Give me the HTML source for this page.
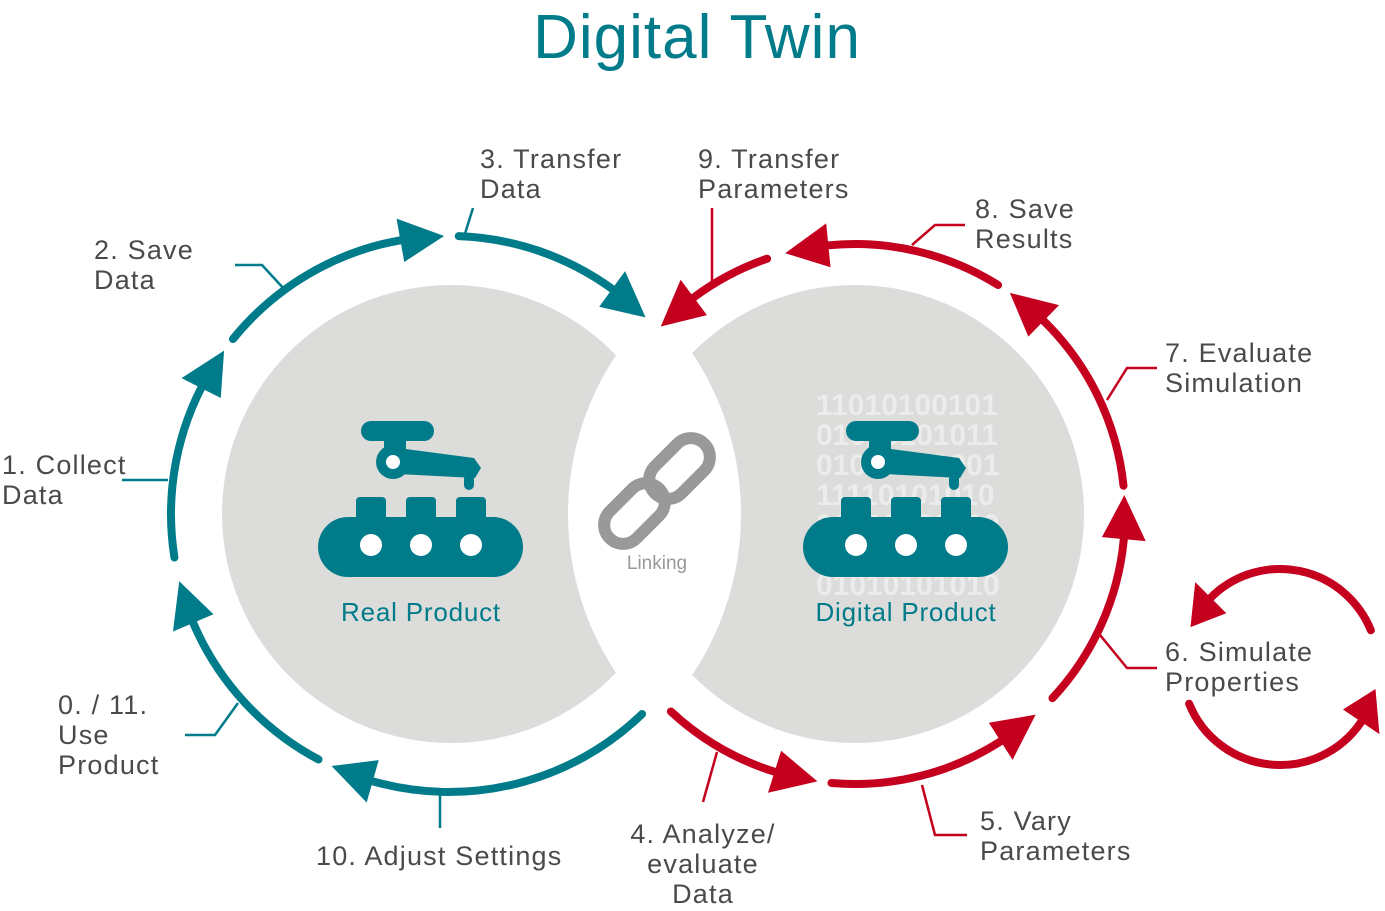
<!DOCTYPE html>
<html><head><meta charset="utf-8"><style>
html,body{margin:0;padding:0;background:#fff;width:1385px;height:911px;overflow:hidden}
svg text{font-family:"Liberation Sans",sans-serif}
.l{font-size:27px;fill:#4a4a4a;font-weight:300;letter-spacing:1.2px}
</style></head><body>
<svg id="s" width="1385" height="911" viewBox="0 0 1385 911" xmlns="http://www.w3.org/2000/svg">
<defs>
<mask id="mL"><rect width="1385" height="911" fill="#fff"/><circle cx="855" cy="514" r="287" fill="#000"/></mask>
<mask id="mR"><rect width="1385" height="911" fill="#fff"/><circle cx="451" cy="514" r="290" fill="#000"/></mask>
<clipPath id="cR"><circle cx="855" cy="514" r="229"/></clipPath>
</defs>
<text x="697" y="58" text-anchor="middle" font-size="62" fill="#007b8a" letter-spacing="1">Digital Twin</text>
<circle cx="451" cy="514" r="229" fill="#dcdcdb" mask="url(#mL)"/>
<circle cx="855" cy="514" r="229" fill="#dcdcdb" mask="url(#mR)"/>
<g clip-path="url(#cR)" mask="url(#mR)" fill="#ececec" font-size="30" font-weight="bold">
<text x="816" y="415">11010100101</text>
<text x="816" y="445">01010101011</text>
<text x="816" y="475">01010100001</text>
<text x="816" y="505">11110101010</text>
<text x="816" y="535">01010101010</text>
<text x="816" y="595">01010101010</text>
</g>
<g id="robotL" fill="#007b8a">
<rect x="318" y="517" width="205" height="60" rx="30"/>
<rect x="356" y="497" width="30" height="26" rx="4"/>
<rect x="406" y="497" width="30" height="26" rx="4"/>
<rect x="456" y="497" width="30" height="26" rx="4"/>
<rect x="361" y="421" width="73" height="20" rx="10"/>
<rect x="384" y="436" width="22" height="14"/>
<circle cx="393" cy="462" r="17"/>
<polygon points="398,448 474,458 481,468 475,478 398,474"/>
<rect x="464" y="474" width="10" height="16" rx="5"/>
<circle cx="393" cy="462" r="7" fill="#fff"/>
<circle cx="371" cy="545" r="11" fill="#fff"/>
<circle cx="421" cy="545" r="11" fill="#fff"/>
<circle cx="471" cy="545" r="11" fill="#fff"/>
</g>
<use href="#robotL" x="485" y="0"/>
<text x="421" y="621" text-anchor="middle" font-size="26" fill="#007b8a" letter-spacing="0.8">Real Product</text>
<text x="906" y="621" text-anchor="middle" font-size="26" fill="#007b8a" letter-spacing="0.8">Digital Product</text>
<g fill="none" stroke="#999" stroke-width="12" stroke-linecap="round">
<rect x="-40" y="-19" width="70" height="38" rx="19" transform="translate(638,510) rotate(-45)"/>
<rect x="-30" y="-19" width="70" height="38" rx="19" transform="translate(676,472) rotate(-45)"/>
</g>
<text x="657" y="569" text-anchor="middle" font-size="19" fill="#999">Linking</text>
<g id="arcs"></g>
<g fill="none" stroke-width="2.5">
<g stroke="#007b8a">
<polyline points="122,480 168,480"/>
<polyline points="235,265 262,265 285,290"/>
<polyline points="463,240 473,208"/>
<polyline points="185,735 215,735 238,703"/>
<polyline points="440,790 440,828"/>
</g>
<g stroke="#c4001e">
<polyline points="717,752 703,802"/>
<polyline points="922,785 935,835 967,835"/>
<polyline points="1100,635 1127,668 1157,668"/>
<polyline points="1107,400 1127,368 1157,368"/>
<polyline points="912,245 935,225 965,225"/>
<polyline points="712,208 712,285"/>
</g>
</g>
<text class="l" x="480" y="168">3. Transfer</text><text class="l" x="480" y="198">Data</text>
<text class="l" x="698" y="168">9. Transfer</text><text class="l" x="698" y="198">Parameters</text>
<text class="l" x="975" y="218">8. Save</text><text class="l" x="975" y="248">Results</text>
<text class="l" x="94" y="259">2. Save</text><text class="l" x="94" y="289">Data</text>
<text class="l" x="1165" y="362">7. Evaluate</text><text class="l" x="1165" y="392">Simulation</text>
<text class="l" x="2" y="474">1. Collect</text><text class="l" x="2" y="504">Data</text>
<text class="l" x="1165" y="661">6. Simulate</text><text class="l" x="1165" y="691">Properties</text>
<text class="l" x="58" y="714">0. / 11.</text><text class="l" x="58" y="744">Use</text><text class="l" x="58" y="774">Product</text>
<text class="l" x="316" y="865">10. Adjust Settings</text>
<text class="l" x="703" y="843" text-anchor="middle">4. Analyze/</text><text class="l" x="703" y="873" text-anchor="middle">evaluate</text><text class="l" x="703" y="903" text-anchor="middle">Data</text>
<text class="l" x="980" y="830">5. Vary</text><text class="l" x="980" y="860">Parameters</text>
</svg>
<script>
(function(){
var g=document.getElementById('arcs'),NS='http://www.w3.org/2000/svg';
function P(cx,cy,r,a){a=a*Math.PI/180;return [cx+r*Math.cos(a),cy+r*Math.sin(a)];}
function arc(cx,cy,r,a1,a2,col,al){
 al=al||44;var dir=a2>a1?1:-1;var d=al/r*180/Math.PI;var ab=a2-dir*d;
 var s=P(cx,cy,r,a1),e=P(cx,cy,r,ab);
 var large=Math.abs(ab-a1)>180?1:0,sw=dir>0?1:0;
 var p=document.createElementNS(NS,'path');
 p.setAttribute('d','M'+s[0]+' '+s[1]+' A'+r+' '+r+' 0 '+large+' '+sw+' '+e[0]+' '+e[1]);
 p.setAttribute('fill','none');p.setAttribute('stroke',col);p.setAttribute('stroke-width','8');p.setAttribute('stroke-linecap','round');
 g.appendChild(p);
 var t=P(cx,cy,r,a2),b1=P(cx,cy,r+22,ab),b2=P(cx,cy,r-22,ab);
 var q=document.createElementNS(NS,'polygon');
 q.setAttribute('points',t.join(',')+' '+b1.join(',')+' '+b2.join(','));
 q.setAttribute('fill',col);g.appendChild(q);
}
var T='#007b8a',R='#c4001e';
arc(449,514,278,118,166,T);
arc(449,514,278,171,216,T);
arc(449,514,278,219,269,T);
arc(449,514,278,272,315,T);
arc(449,514,278,46,115,T);
arc(855,514,270,133,98,R);
arc(855,514,270,95,48,R);
arc(855,514,270,43,-4,R);
arc(855,514,270,-6,-55,R);
arc(855,514,270,-58,-105,R);
arc(855,514,270,-109,-136,R);
arc(1280,667,98,-22,-156,R,36);
arc(1280,667,98,158,13,R,36);
})();
</script>
</body></html>
